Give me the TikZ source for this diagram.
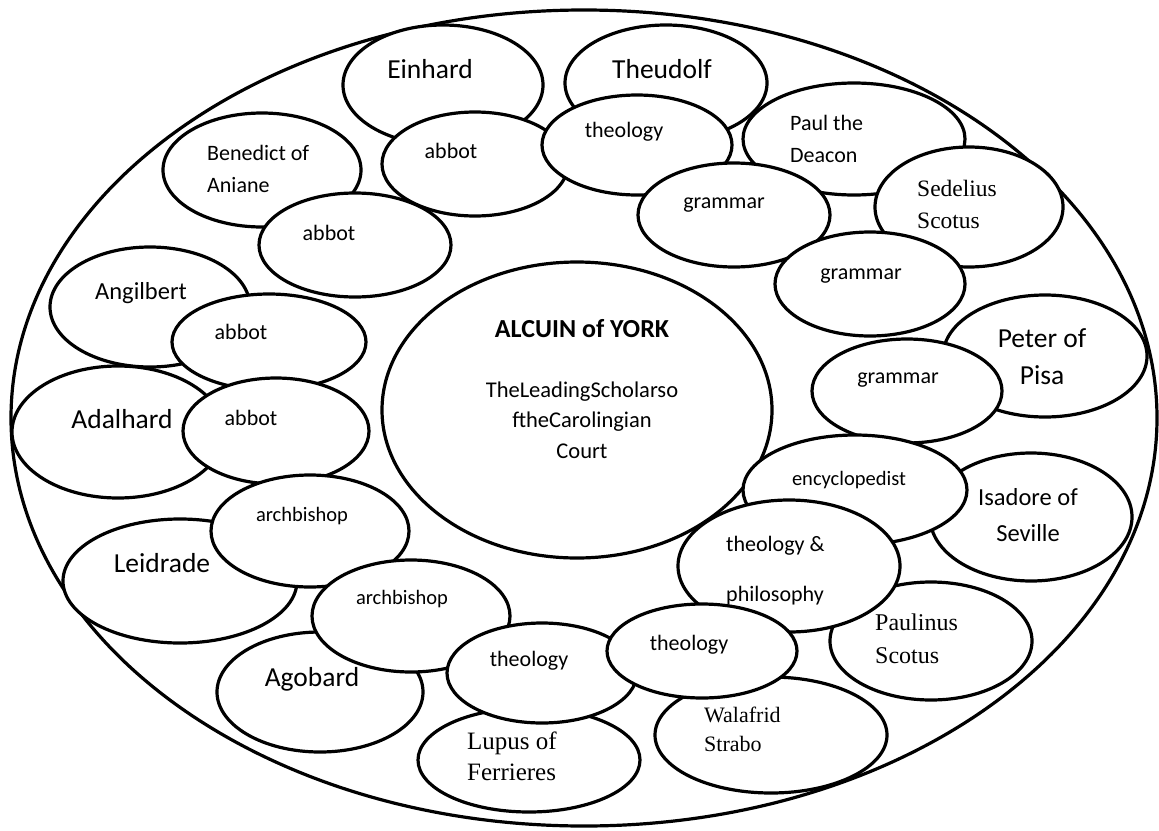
\documentclass[tikz,border=0pt]{standalone}
\usepackage{fontspec}
\setmainfont{Carlito}
\newfontfamily\oldserif{Liberation Serif}
\begin{document}
\begin{tikzpicture}[x=1pt,y=-1pt,
    bub/.style={draw,fill=white,line width=3.2pt},
    big/.style={font=\fontsize{27.5}{33}\selectfont,anchor=base,inner sep=0pt},
    med/.style={font=\fontsize{24.5}{36}\selectfont,anchor=base,inner sep=0pt},
    role/.style={font=\fontsize{22}{32}\selectfont,anchor=base,inner sep=0pt},
    small/.style={font=\fontsize{20.5}{30}\selectfont,anchor=base,inner sep=0pt},
    old/.style={font=\oldserif\fontsize{23.5}{32}\selectfont,anchor=base west,align=left,inner sep=0pt}]
    \useasboundingbox (0,0) rectangle (1159,830);
    \draw[bub] (584,418) ellipse [x radius=573,y radius=408];
    \draw[bub] (577,410) ellipse [x radius=195,y radius=148];
    \node[font=\bfseries\fontsize{26}{30}\selectfont,anchor=base,inner sep=0pt] (alcuin) at (582,337) {ALCUIN of YORK};
    \node[font=\fontsize{22.5}{30.5}\selectfont,anchor=base,align=center,inner sep=0pt] (court) at (582,458) {TheLeadingScholarso\\ftheCarolingian\\Court};
    \draw[bub] (443,85) ellipse [x radius=100,y radius=60];
    \node[big] (einhard) at (430,78) {Einhard};
    \draw[bub] (666,83) ellipse [x radius=101,y radius=58];
    \node[big] (theudolf) at (662,78) {Theudolf};
    \draw[bub] (262,170) ellipse [x radius=99,y radius=57];
    \node[role,anchor=base west,align=left] (benedict) at (207,192) {Benedict of\\Aniane};
    \draw[bub] (150,307) ellipse [x radius=100,y radius=60];
    \node[med] (angilbert) at (141,299) {Angilbert};
    \draw[bub] (118,432) ellipse [x radius=106,y radius=66];
    \node[big] (adalhard) at (122,428) {Adalhard};
    \draw[bub] (180,581) ellipse [x radius=117,y radius=62];
    \node[big] (leidrade) at (162,572) {Leidrade};
    \draw[bub] (320,692) ellipse [x radius=103,y radius=60];
    \node[big] (agobard) at (312,686) {Agobard};
    \draw[bub] (529,760) ellipse [x radius=111,y radius=52];
    \node[old,font=\oldserif\fontsize{25}{31}\selectfont] (lupus) at (467,780) {Lupus of\\Ferrieres};
    \draw[bub] (771,735) ellipse [x radius=116,y radius=58];
    \node[old,font=\oldserif\fontsize{22}{29}\selectfont] (walafrid) at (704,751) {Walafrid\\Strabo};
    \draw[bub] (931,641) ellipse [x radius=101,y radius=59];
    \node[old,font=\oldserif\fontsize{24}{33}\selectfont] (paulinus) at (875,663) {Paulinus\\Scotus};
    \draw[bub] (1031,517) ellipse [x radius=101,y radius=64];
    \node[med,align=center] (isadore) at (1028,541) {Isadore of\\Seville};
    \draw[bub] (1045,356) ellipse [x radius=102,y radius=61];
    \node[big,align=center,font=\fontsize{27.5}{37}\selectfont] (peter) at (1042,384) {Peter of\\Pisa};
    \draw[bub] (854,139) ellipse [x radius=111,y radius=56];
    \node[role,anchor=base west,align=left] (paul) at (790,162) {Paul the\\Deacon};
    \draw[bub] (969,207) ellipse [x radius=94,y radius=60];
    \node[old] (sedelius) at (917,228) {Sedelius\\Scotus};
    \draw[bub] (355,245) ellipse [x radius=96,y radius=52];
    \node[role] (abbotb) at (329,240) {abbot};
    \draw[bub] (475,164) ellipse [x radius=93,y radius=52];
    \node[role] (abbote) at (451,158) {abbot};
    \draw[bub] (637,145) ellipse [x radius=95,y radius=50];
    \node[role] (theologyt) at (624,137) {theology};
    \draw[bub] (734,215) ellipse [x radius=96,y radius=52];
    \node[role] (grammarp) at (724,208) {grammar};
    \draw[bub] (870,284) ellipse [x radius=95,y radius=52];
    \node[role] (grammars) at (861,279) {grammar};
    \draw[bub] (907,391) ellipse [x radius=95,y radius=52];
    \node[role] (grammarpi) at (898,383) {grammar};
    \draw[bub] (269,342) ellipse [x radius=97,y radius=48];
    \node[role] (abbotan) at (241,339) {abbot};
    \draw[bub] (276,431) ellipse [x radius=93,y radius=53];
    \node[role] (abbotad) at (251,425) {abbot};
    \draw[bub] (310,531) ellipse [x radius=99,y radius=56];
    \node[small] (archl) at (302,521) {archbishop};
    \draw[bub] (411,616) ellipse [x radius=99,y radius=56];
    \node[small] (archa) at (402,604) {archbishop};
    \draw[bub] (542,673) ellipse [x radius=95,y radius=50];
    \node[role] (theologyl) at (529,666) {theology};
    \draw[bub] (855,490) ellipse [x radius=112,y radius=55];
    \node[small] (encyc) at (849,485) {encyclopedist};
    \draw[bub] (789,566) ellipse [x radius=111,y radius=66];
    \node[role,anchor=base west,align=left,font=\fontsize{22}{50}\selectfont] (philo) at (726,601) {theology \&\\philosophy};
    \draw[bub] (702,651) ellipse [x radius=95,y radius=47];
    \node[role] (theologyw) at (689,650) {theology};
\end{tikzpicture}
\end{document}
